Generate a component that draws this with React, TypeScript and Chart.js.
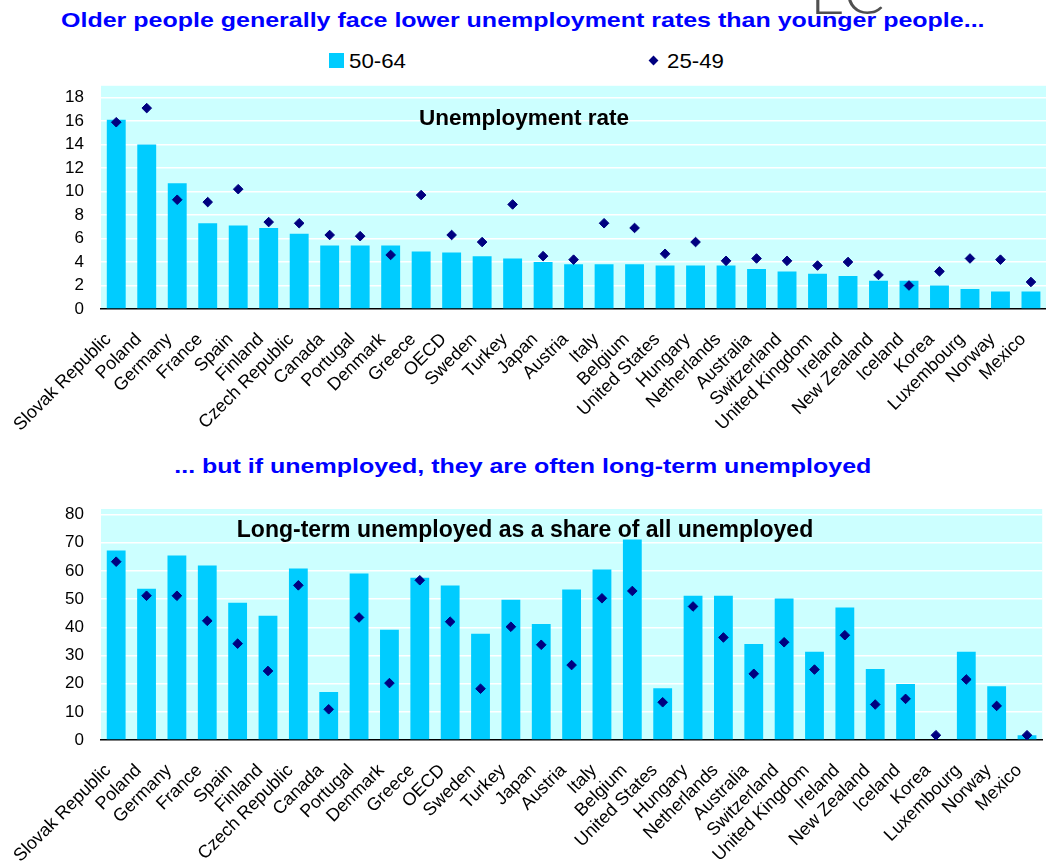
import React, { useEffect, useRef } from "react";
import { Chart, registerables } from "chart.js";

Chart.register(...registerables);

const FONT = "'Liberation Sans', Arial, Helvetica, sans-serif";
const BAR_COLOR = "#00CCFF";
const DOT_COLOR = "#000080";
const PLOT_BG = "#CCFFFF";
const TITLE_BLUE = "#0000FF";

const countries = [
  "Slovak Republic", "Poland", "Germany", "France", "Spain", "Finland",
  "Czech Republic", "Canada", "Portugal", "Denmark", "Greece", "OECD",
  "Sweden", "Turkey", "Japan", "Austria", "Italy", "Belgium",
  "United States", "Hungary", "Netherlands", "Australia", "Switzerland",
  "United Kingdom", "Ireland", "New Zealand", "Iceland", "Korea",
  "Luxembourg", "Norway", "Mexico",
];

// Unemployment rate (%)
const unemp5064 = [
  16.1, 14.0, 10.7, 7.3, 7.1, 6.9, 6.4, 5.4, 5.4, 5.4, 4.9, 4.8, 4.5, 4.3, 4.0,
  3.8, 3.8, 3.8, 3.7, 3.7, 3.7, 3.4, 3.2, 3.0, 2.8, 2.4, 2.4, 2.0, 1.7, 1.5, 1.5,
];
const unemp2549 = [
  15.9, 17.1, 9.3, 9.1, 10.2, 7.4, 7.3, 6.3, 6.2, 4.6, 9.7, 6.3, 5.7, 8.9, 4.5,
  4.2, 7.3, 6.9, 4.7, 5.7, 4.1, 4.3, 4.1, 3.7, 4.0, 2.9, 2.0, 3.2, 4.3, 4.2, 2.3,
];

// Long-term unemployed as a share of all unemployed (%)
const ltu5064 = [
  67.3, 53.7, 65.5, 61.9, 48.7, 44.1, 60.9, 17.0, 59.1, 39.1, 57.6, 54.8, 37.7,
  49.8, 41.2, 53.4, 60.5, 71.2, 18.4, 51.2, 51.2, 34.1, 50.2, 31.3, 47.0, 25.2,
  19.9, 0.3, 31.3, 19.1, 1.7,
];
const ltu2549 = [
  63.3, 51.2, 51.2, 42.3, 34.2, 24.5, 54.9, 10.9, 43.5, 20.2, 56.7, 42.0, 18.2,
  40.2, 33.8, 26.6, 50.3, 52.9, 13.4, 47.4, 36.4, 23.5, 34.7, 25.0, 37.2, 12.6,
  14.6, 1.7, 21.5, 12.1, 1.7,
];

const topTicks = [0, 2, 4, 6, 8, 10, 12, 14, 16, 18];
const bottomTicks = [0, 10, 20, 30, 40, 50, 60, 70, 80];

const seriesOld = "50-64";
const seriesYoung = "25-49";

type PanelProps = {
  top: number;
  width: number;
  height: number;
  padTop: number;
  xAxisHeight: number;
  bars: number[];
  points: number[];
  yMax: number;
  yTicks: number[];
  inner: string;
  innerSize: number;
  innerX: number;
  innerBaseline: number;
};

function PanelChart(p: PanelProps) {
  const ref = useRef<HTMLCanvasElement>(null);
  useEffect(() => {
    if (!ref.current) return;
    const bgPlugin = {
      id: "plotBg",
      beforeDraw(chart: any) {
        const { ctx, chartArea: a } = chart;
        ctx.save();
        ctx.fillStyle = PLOT_BG;
        ctx.fillRect(a.left, a.top, a.right - a.left, a.bottom - a.top);
        ctx.restore();
      },
    };
    const innerPlugin = {
      id: "innerTitle",
      beforeDatasetsDraw(chart: any) {
        const { ctx } = chart;
        ctx.save();
        ctx.font = `bold ${p.innerSize}px ${FONT}`;
        ctx.fillStyle = "#000";
        ctx.textAlign = "center";
        ctx.textBaseline = "alphabetic";
        ctx.fillText(p.inner, p.innerX, p.innerBaseline);
        ctx.restore();
      },
    };
    const chart = new Chart(ref.current, {
      type: "bar",
      data: {
        labels: countries,
        datasets: [
          {
            type: "bar",
            label: seriesOld,
            data: p.bars,
            backgroundColor: BAR_COLOR,
            borderWidth: 0,
            barPercentage: 0.62,
            categoryPercentage: 1,
            order: 2,
          } as any,
          {
            type: "line",
            label: seriesYoung,
            data: p.points,
            showLine: false,
            pointStyle: "rectRot",
            pointRadius: 4.8,
            pointBorderWidth: 1,
            pointBackgroundColor: DOT_COLOR,
            pointBorderColor: DOT_COLOR,
            borderColor: DOT_COLOR,
            backgroundColor: DOT_COLOR,
            order: 1,
          } as any,
        ],
      },
      options: {
        animation: false,
        responsive: false,
        maintainAspectRatio: false,
        layout: { padding: { top: p.padTop, left: 0, right: 0, bottom: 0 } },
        plugins: {
          legend: { display: false },
          tooltip: { enabled: false },
        },
        scales: {
          x: {
            offset: true,
            grid: { display: false, drawTicks: false },
            border: { display: true, color: "#000", width: 1.5 },
            ticks: {
              autoSkip: false,
              maxRotation: 45,
              minRotation: 45,
              padding: 20,
              labelOffset: -8,
              color: "#000",
              font: { family: FONT, size: 18 },
            },
            afterFit: (s: any) => {
              s.height = p.xAxisHeight;
              s.paddingLeft = 0;
              s.paddingRight = 0;
            },
          },
          y: {
            min: 0,
            max: p.yMax,
            afterBuildTicks: (s: any) => {
              s.ticks = p.yTicks.map((v) => ({ value: v }));
            },
            grid: { color: "#FFFFFF", lineWidth: 1.5, drawTicks: false },
            border: { display: false },
            ticks: {
              autoSkip: false,
              padding: 17,
              color: "#000",
              font: { family: FONT, size: 17 },
            },
            afterFit: (s: any) => {
              s.width = 101;
              s.paddingTop = 0;
              s.paddingBottom = 0;
            },
          },
        },
      },
      plugins: [bgPlugin, innerPlugin],
    });
    return () => chart.destroy();
  }, []);
  return (
    <canvas
      ref={ref}
      width={p.width}
      height={p.height}
      style={{ position: "absolute", left: 0, top: p.top, width: p.width, height: p.height }}
    />
  );
}

export default function App() {
  const titleStyle: React.CSSProperties = {
    position: "absolute",
    left: 0,
    width: 1046,
    textAlign: "center",
    fontFamily: FONT,
    fontWeight: "bold",
    fontSize: 21,
    lineHeight: "24px",
    color: TITLE_BLUE,
    whiteSpace: "nowrap",
    transform: "scaleX(1.19)",
    transformOrigin: "524px 0",
  };
  const legendText: React.CSSProperties = {
    position: "absolute",
    top: 49,
    fontFamily: FONT,
    fontSize: 21,
    lineHeight: "24px",
    color: "#000",
    transform: "scaleX(1.06)",
    transformOrigin: "0 0",
  };
  return (
    <div
      style={{
        position: "absolute",
        left: 0,
        top: 0,
        width: 1046,
        height: 862,
        overflow: "hidden",
        background: "#fff",
      }}
    >
      <div
        style={{
          position: "absolute",
          left: 810,
          top: -39,
          fontFamily: "Lato, 'DejaVu Sans', sans-serif",
          fontWeight: 300,
          fontSize: 60,
          lineHeight: "60px",
          color: "#505050",
        }}
      >
        EC
      </div>
      <div style={{ ...titleStyle, top: 8 }}>
        Older people generally face lower unemployment rates than younger people...
      </div>
      <div
        style={{
          position: "absolute",
          left: 329,
          top: 53,
          width: 15,
          height: 15,
          background: BAR_COLOR,
        }}
      />
      <div style={{ ...legendText, left: 349 }}>{seriesOld}</div>
      <div
        style={{
          position: "absolute",
          left: 650,
          top: 57,
          width: 7,
          height: 7,
          background: DOT_COLOR,
          transform: "rotate(45deg)",
        }}
      />
      <div style={{ ...legendText, left: 667 }}>{seriesYoung}</div>

      <PanelChart
        top={80}
        width={1052}
        height={360}
        padTop={4}
        xAxisHeight={131}
        bars={unemp5064}
        points={unemp2549}
        yMax={19}
        yTicks={topTicks}
        inner="Unemployment rate"
        innerSize={22.5}
        innerX={524}
        innerBaseline={45}
      />

      <div style={{ ...titleStyle, top: 454 }}>
        ... but if unemployed, they are often long-term unemployed
      </div>

      <PanelChart
        top={500}
        width={1048}
        height={362}
        padTop={9}
        xAxisHeight={122}
        bars={ltu5064}
        points={ltu2549}
        yMax={82}
        yTicks={bottomTicks}
        inner="Long-term unemployed as a share of all unemployed"
        innerSize={23}
        innerX={525}
        innerBaseline={37}
      />
    </div>
  );
}
